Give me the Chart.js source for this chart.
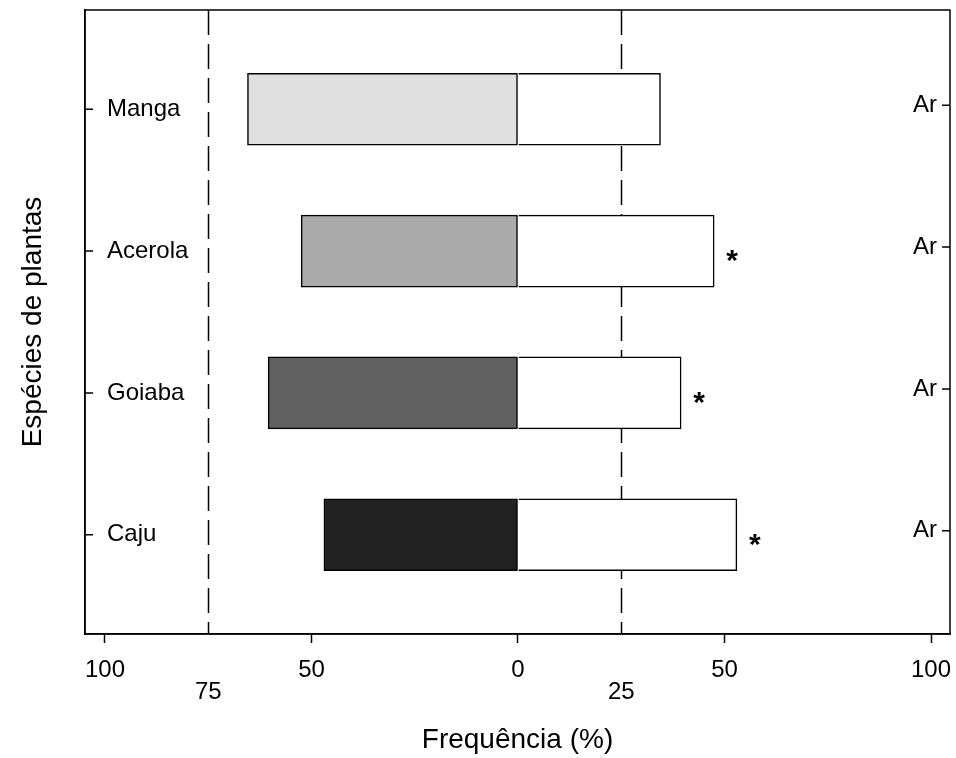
<!DOCTYPE html>
<html>
<head>
<meta charset="utf-8">
<script src="https://cdn.jsdelivr.net/npm/chart.js@4.4.1/dist/chart.umd.min.js"></script>
<style>
  html, body { margin: 0; padding: 0; background: #fff; }
  #wrap { width: 956px; height: 758px; }
</style>
</head>
<body>
<div id="wrap"><canvas id="chart"></canvas></div>
<script>
const species = ['Manga', 'Acerola', 'Goiaba', 'Caju'];
const leftValues = [65.5, 52.5, 60.5, 47];   // left part, drawn to the left of 0
const rightValues = [34.5, 47.5, 39.5, 53];  // right part ("Ar")
const fillColors = ['#e0e0e0', '#aaaaaa', '#606060', '#222222'];
const significant = [false, true, true, true];
const rightLabel = 'Ar';
const xTicks = [-100, -75, -50, 0, 25, 50, 100];
const refLines = [-75, 25];

const FONT = "'Liberation Sans', Arial, sans-serif";

const extras = {
    id: 'extras',
    beforeDatasetsDraw(chart) {
        const { ctx, chartArea: a, scales: { x } } = chart;
        ctx.save();
        ctx.strokeStyle = '#000';
        ctx.lineWidth = 1.5;
        ctx.setLineDash([25, 9]);
        refLines.forEach(v => {
            const px = Math.round(x.getPixelForValue(v)) + 0.5;
            ctx.beginPath();
            ctx.moveTo(px, a.top);
            ctx.lineTo(px, a.bottom);
            ctx.stroke();
        });
        ctx.restore();
    },
    afterDraw(chart) {
        const { ctx, chartArea: a, scales: { x, y } } = chart;
        ctx.save();
        ctx.strokeStyle = '#000';
        ctx.lineWidth = 1.5;
        ctx.strokeRect(a.left, a.top, a.right - a.left, a.bottom - a.top);

        ctx.fillStyle = '#000';
        species.forEach((s, i) => {
            const py = y.getPixelForValue(i + 1);
            // inward ticks on both sides
            ctx.beginPath();
            ctx.moveTo(a.left, py);
            ctx.lineTo(a.left + 8, py);
            ctx.moveTo(a.right, py - 4);
            ctx.lineTo(a.right - 8, py - 4);
            ctx.stroke();

            ctx.font = '24px ' + FONT;
            ctx.textAlign = 'right';
            ctx.textBaseline = 'middle';
            ctx.fillText(rightLabel, a.right - 13, py - 4);

            if (significant[i]) {
                ctx.font = 'bold 30px ' + FONT;
                ctx.textAlign = 'center';
                ctx.fillText('*', x.getPixelForValue(rightValues[i]) + 18, py + 11);
            }
        });
        ctx.restore();
    }
};

new Chart(document.getElementById('chart'), {
    type: 'bar',
    data: {
        datasets: [
            {
                data: species.map((s, i) => ({ y: i + 1, x: -leftValues[i] })),
                backgroundColor: fillColors,
                borderColor: '#000',
                borderWidth: 1.5,
                borderSkipped: false,
                barThickness: 72
            },
            {
                data: species.map((s, i) => ({ y: i + 1, x: rightValues[i] })),
                backgroundColor: '#ffffff',
                borderColor: '#000',
                borderWidth: 1.5,
                borderSkipped: 'start',
                barThickness: 72
            }
        ]
    },
    options: {
        indexAxis: 'y',
        responsive: true,
        maintainAspectRatio: false,
        animation: false,
        layout: { padding: { top: 10, right: 6, left: 0, bottom: 0 } },
        plugins: { legend: { display: false }, tooltip: { enabled: false } },
        scales: {
            x: {
                type: 'linear',
                stacked: true,
                min: -104.84,
                max: 104.6,
                afterBuildTicks: axis => { axis.ticks = xTicks.map(v => ({ value: v })); },
                afterFit: axis => {
                    axis.paddingLeft = 0;
                    axis.paddingRight = 0;
                    axis.height = 124;
                },
                ticks: {
                    color: '#000',
                    font: { family: FONT, size: 24, lineHeight: 22 / 24 },
                    padding: 16,
                    autoSkip: false,
                    maxRotation: 0,
                    callback: v => (refLines.includes(v) ? ['', String(Math.abs(v))] : String(Math.abs(v)))
                },
                grid: {
                    drawOnChartArea: false,
                    tickLength: 9,
                    tickWidth: 1.5,
                    tickColor: c => (c.tick && refLines.includes(c.tick.value) ? 'rgba(0,0,0,0)' : '#000')
                },
                border: { color: '#000', width: 1.5 },
                title: {
                    display: true,
                    text: 'Frequência (%)',
                    color: '#000',
                    font: { family: FONT, size: 28 },
                    padding: { top: 0, bottom: 1 }
                }
            },
            y: {
                type: 'linear',
                stacked: true,
                reverse: true,
                offset: false,
                min: 0.3,
                max: 4.7,
                afterBuildTicks: axis => { axis.ticks = species.map((s, i) => ({ value: i + 1 })); },
                afterFit: axis => {
                    axis.paddingTop = 0;
                    axis.paddingBottom = 0;
                    axis.width = 85;
                },
                ticks: {
                    mirror: true,
                    padding: 22,
                    color: '#000',
                    font: { family: FONT, size: 24 },
                    callback: v => species[v - 1]
                },
                grid: { display: false, drawTicks: false },
                border: { color: '#000', width: 1.5 },
                title: {
                    display: true,
                    text: 'Espécies de plantas',
                    color: '#000',
                    font: { family: FONT, size: 28 },
                    padding: { top: 16, bottom: 0 }
                }
            }
        }
    },
    plugins: [extras]
});
</script>
</body>
</html>
